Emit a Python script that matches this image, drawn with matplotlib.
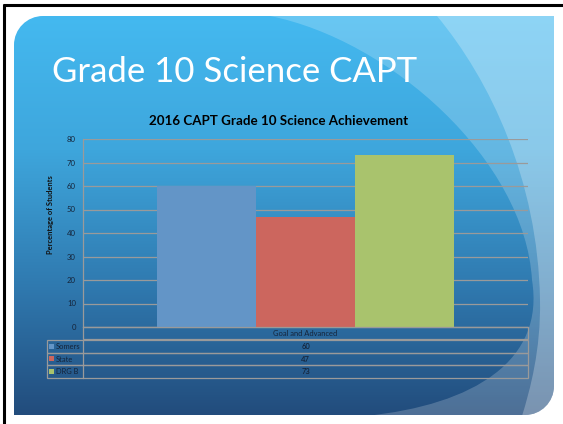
import numpy as np
import matplotlib
matplotlib.use("Agg")
import matplotlib.pyplot as plt
from matplotlib.path import Path
from matplotlib.patches import PathPatch, Rectangle

W, H = 563, 424

slide_title = "Grade 10 Science CAPT"
chart_title = "2016 CAPT Grade 10 Science Achievement"
category = "Goal and Advanced"
series = ["Somers", "State", "DRG B"]
values = [60, 47, 73]
colors = ["#6395c7", "#cc665e", "#a9c36d"]
yticks = [0, 10, 20, 30, 40, 50, 60, 70, 80]
ylabel = "Percentage of Students"

plt.rcParams['font.family'] = ['Lato', 'DejaVu Sans']

fig = plt.figure(figsize=(W / 100, H / 100), dpi=100)
bg = fig.add_axes([0, 0, 1, 1])
bg.axis("off")


def slide_shape(x0, y0, x1, y1, r):
    # rounded top-left and bottom-right corners, square on the others
    k = 0.4477 * r
    verts = [(x0 + r, y0), (x1, y0), (x1, y1 - r), (x1, y1 - k), (x1 - k, y1), (x1 - r, y1),
             (x0, y1), (x0, y0 + r), (x0, y0 + k), (x0 + k, y0), (x0 + r, y0)]
    codes = [Path.MOVETO, Path.LINETO, Path.LINETO, Path.CURVE4, Path.CURVE4, Path.CURVE4,
             Path.LINETO, Path.LINETO, Path.CURVE4, Path.CURVE4, Path.CURVE4]
    return Path(verts, codes)


shape = slide_shape(14, 16, 554, 415, 29)
clip = PathPatch(shape, transform=bg.transData, facecolor='none', edgecolor='none')
bg.add_patch(clip)

# vertical gradient of the slide
ys = np.arange(16, 416)
stops_y = [16, 150, 290, 415]
stops_c = np.array([[68, 185, 240], [62, 166, 220], [47, 120, 174], [34, 76, 124]]) / 255
grad = np.stack([np.interp(ys, stops_y, stops_c[:, i]) for i in range(3)], axis=-1)[:, None, :]
im = bg.imshow(grad, extent=(14, 554, 415, 16), aspect='auto', zorder=1)
im.set_clip_path(clip)

# lighter swooshes on the right
C4 = Path.CURVE4
inner = Path([(265, 0), (270, 16), (390, 40), (525, 160), (532, 280), (545, 360), (475, 405), (365, 416),
              (360, 440), (620, 440), (620, 0), (265, 0)],
             [Path.MOVETO, Path.LINETO, C4, C4, C4, C4, C4, C4, Path.LINETO, Path.LINETO, Path.LINETO, Path.CLOSEPOLY])
outer = Path([(437, 0), (437, 16), (490, 80), (538, 180), (540, 300), (541, 350), (530, 390), (522, 416),
              (520, 440), (620, 440), (620, 0), (437, 0)],
             [Path.MOVETO, Path.LINETO, C4, C4, C4, C4, C4, C4, Path.LINETO, Path.LINETO, Path.LINETO, Path.CLOSEPOLY])
for p, a in [(inner, 0.2), (outer, 0.25)]:
    pp = PathPatch(p, facecolor='white', edgecolor='none', alpha=a, zorder=2)
    bg.add_patch(pp)
    pp.set_clip_path(clip)

# black frame on top and left
bg.plot([4, 4], [4, H], color='black', lw=2.2, zorder=3, solid_capstyle='butt')
bg.plot([3, W], [5, 5], color='black', lw=2.2, zorder=3, solid_capstyle='butt')

bg.text(52, 82, slide_title, fontsize=25, color='white', va='baseline', ha='left', zorder=4)
bg.text(279, 121, chart_title, fontsize=9.6, fontweight='bold', color='black', ha='center', va='center', zorder=4)

# data table under the plot
grid_c = '#9a9a9a'
tx0, tx1, tc = 47, 528, 83
row_top = 340
row_h = 12.7
txt_c = '#15243a'
fs_tab = 5.4
bg.add_patch(Rectangle((tc, 327), tx1 - tc, 12, fill=False, edgecolor=grid_c, lw=0.9, zorder=4))
bg.text((tc + tx1) / 2, 333.5, category, fontsize=fs_tab, color=txt_c, ha='center', va='center', zorder=5)
for i, (name, v, c) in enumerate(zip(series, values, colors)):
    y0 = row_top + i * row_h
    bg.add_patch(Rectangle((tx0, y0), tx1 - tx0, row_h, fill=False, edgecolor=grid_c, lw=0.9, zorder=4))
    bg.plot([tc, tc], [y0, y0 + row_h], color=grid_c, lw=0.9, zorder=4)
    bg.add_patch(Rectangle((49, y0 + row_h / 2 - 2.6), 5, 5, facecolor=c, edgecolor='none', zorder=5))
    bg.text(56, y0 + row_h / 2, name, fontsize=fs_tab, color=txt_c, ha='left', va='center', zorder=5)
    bg.text((tc + tx1) / 2, y0 + row_h / 2, str(v), fontsize=fs_tab, color=txt_c, ha='center', va='center',
            fontweight='semibold', zorder=5)

bg.set_xlim(0, W)
bg.set_ylim(H, 0)

# the bar chart itself
ax = fig.add_axes([83 / W, 1 - 327 / H, 445 / W, 188 / H])
ax.patch.set_alpha(0)
bw = 99 / 445
for i, (v, c) in enumerate(zip(values, colors)):
    ax.bar(0.5 + (i - 1) * bw, v, width=bw, color=c, zorder=2)
ax.set_xlim(0, 1)
ax.set_ylim(0, 80)
ax.set_yticks(yticks)
ax.set_xticks([])
ax.tick_params(axis='y', labelsize=5.6, length=0, pad=5, labelcolor=txt_c)
ax.grid(axis='y', color=grid_c, lw=0.9)
ax.set_axisbelow(True)
for s in ['top', 'right']:
    ax.spines[s].set_visible(False)
for s in ['left', 'bottom']:
    ax.spines[s].set_color(grid_c)
    ax.spines[s].set_linewidth(0.9)
ax.set_ylabel(ylabel, fontsize=5.4, fontweight='bold', color='#111111')
ax.yaxis.set_label_coords(-(83 - 54) / 445, (327 - 215) / 188)

fig.savefig("out.png", dpi=100, facecolor='white')
